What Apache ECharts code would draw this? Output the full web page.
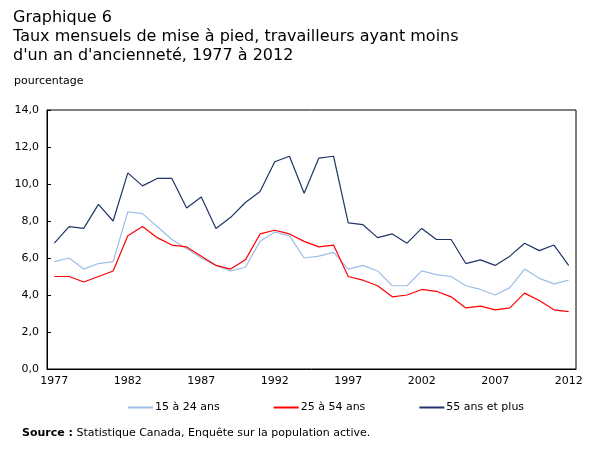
<!DOCTYPE html>
<html>
<head>
<meta charset="utf-8">
<script src="https://cdn.jsdelivr.net/npm/echarts@6/dist/echarts.min.js"></script>
<style>
  html, body { margin: 0; padding: 0; background: #fff; }
  #chart { width: 607px; height: 456px; }
</style>
</head>
<body>
<div id="chart"></div>
<script>
var years = [];
for (var y = 1977; y <= 2012; y++) { years.push(String(y)); }

var young = [5.8, 6.0, 5.4, 5.7, 5.8, 8.5, 8.4, 7.7, 7.0, 6.5, 6.0, 5.6, 5.3, 5.5, 6.9, 7.4, 7.2, 6.0, 6.1, 6.3,
             5.4, 5.6, 5.3, 4.5, 4.5, 5.3, 5.1, 5.0, 4.5, 4.3, 4.0, 4.4, 5.4, 4.9, 4.6, 4.8];
var core = [5.0, 5.0, 4.7, 5.0, 5.3, 7.2, 7.7, 7.1, 6.7, 6.6, 6.1, 5.6, 5.4, 5.9, 7.3, 7.5, 7.3, 6.9, 6.6, 6.7,
            5.0, 4.8, 4.5, 3.9, 4.0, 4.3, 4.2, 3.9, 3.3, 3.4, 3.2, 3.3, 4.1, 3.7, 3.2, 3.1];
var older = [6.8, 7.7, 7.6, 8.9, 8.0, 10.6, 9.9, 10.3, 10.3, 8.7, 9.3, 7.6, 8.2, 9.0, 9.6, 11.2, 11.5, 9.5, 11.4, 11.5,
             7.9, 7.8, 7.1, 7.3, 6.8, 7.6, 7.0, 7.0, 5.7, 5.9, 5.6, 6.1, 6.8, 6.4, 6.7, 5.6];

var seriesNames = ['15 à 24 ans', '25 à 54 ans', '55 ans et plus'];
var colors = ['#9dbfe6', '#ff0000', '#1f3566'];

var chart = echarts.init(document.getElementById('chart'));
var font = 'DejaVu Sans';

var options = {
    animation: false,
    color: colors,
    textStyle: { fontFamily: font },
    title: [
        {
            text: 'Graphique 6\nTaux mensuels de mise à pied, travailleurs ayant moins\nd\'un an d\'ancienneté, 1977 à 2012',
            left: 8,
            top: 3,
            textStyle: { fontFamily: font, fontSize: 16, fontWeight: 'normal', color: '#000', lineHeight: 19 }
        },
        {
            text: 'pourcentage',
            left: 9,
            top: 71,
            textStyle: { fontFamily: font, fontSize: 11, fontWeight: 'normal', color: '#000' }
        },
        {
            text: '{b|Source :} Statistique Canada, Enquête sur la population active.',
            left: 17,
            top: 423,
            textStyle: {
                fontFamily: font, fontSize: 11, fontWeight: 'normal', color: '#000',
                rich: { b: { fontFamily: font, fontSize: 11, fontWeight: 'bold', color: '#000' } }
            }
        }
    ],
    legend: {
        data: seriesNames,
        top: 397,
        left: 123,
        itemGap: 54,
        itemWidth: 25,
        itemHeight: 2,
        icon: 'rect',
        textStyle: { fontFamily: font, fontSize: 11, color: '#000', padding: [0, 0, 0, -3] }
    },
    grid: {
        left: 47,
        right: 31,
        top: 110,
        bottom: 87,
        show: true,
        borderColor: '#000',
        borderWidth: 1
    },
    xAxis: {
        type: 'category',
        data: years,
        boundaryGap: true,
        axisLine: { lineStyle: { color: '#000', width: 1 } },
        axisTick: { inside: true, length: 4, interval: 0, lineStyle: { color: '#000' } },
        axisLabel: { interval: 4, color: '#000', fontFamily: font, fontSize: 11, margin: 7 },
        splitLine: { show: false }
    },
    yAxis: {
        type: 'value',
        min: 0,
        max: 14,
        interval: 2,
        axisLine: { show: true, lineStyle: { color: '#000', width: 1 } },
        axisTick: { show: true, inside: true, length: 4, lineStyle: { color: '#000' } },
        axisLabel: {
            color: '#000', fontFamily: font, fontSize: 11, margin: 8,
            formatter: function (v) { return v.toFixed(1).replace('.', ','); }
        },
        splitLine: { show: false }
    },
    series: [
        { name: seriesNames[0], type: 'line', data: young, symbol: 'none', lineStyle: { width: 1.2 } },
        { name: seriesNames[1], type: 'line', data: core, symbol: 'none', lineStyle: { width: 1.2 } },
        { name: seriesNames[2], type: 'line', data: older, symbol: 'none', lineStyle: { width: 1.2 } }
    ]
};

chart.setOption(options);
</script>
</body>
</html>
